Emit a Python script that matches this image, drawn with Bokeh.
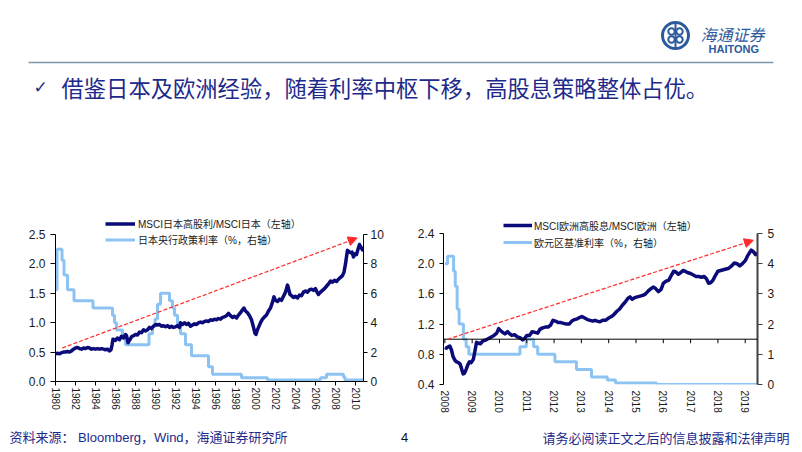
import math
from bokeh.plotting import figure
from bokeh.layouts import column, row
from bokeh.models import (Range1d, LinearAxis, FixedTicker, NumeralTickFormatter,
                          Legend, LegendItem, Arrow, NormalHead, Span)
from bokeh.core.properties import value
from bokeh.embed import file_html
from bokeh.resources import INLINE

# ---------------- data ----------------
jp_years = [1980.0, 1980.2, 1980.4, 1980.6, 1980.8, 1981.0, 1981.2, 1981.4, 1981.6, 1981.8,
            1982.0, 1982.2, 1982.4, 1982.6, 1982.8, 1983.0, 1983.2, 1983.4, 1983.6, 1983.8,
            1984.0, 1984.2, 1984.4, 1984.6, 1984.8, 1985.0, 1985.2, 1985.4, 1985.55, 1985.65,
            1985.75, 1986.0, 1986.2, 1986.4, 1986.6, 1986.8, 1987.0, 1987.1, 1987.25, 1987.4,
            1987.6, 1987.8, 1988.0, 1988.2, 1988.4, 1988.6, 1988.8, 1989.0, 1989.2, 1989.4,
            1989.6, 1989.8, 1990.0, 1990.2, 1990.4, 1990.6, 1990.8, 1991.0, 1991.2, 1991.4,
            1991.6, 1991.8, 1992.0, 1992.2, 1992.4, 1992.5, 1992.7, 1992.9, 1993.1, 1993.3,
            1993.5, 1993.7, 1993.9, 1994.1, 1994.3, 1994.5, 1994.7, 1994.9, 1995.1, 1995.3,
            1995.5, 1995.7, 1995.9, 1996.1, 1996.3, 1996.5, 1996.7, 1996.9, 1997.1, 1997.3,
            1997.5, 1997.7, 1997.9, 1998.1, 1998.3, 1998.5, 1998.7, 1998.85, 1999.0, 1999.2,
            1999.4, 1999.6, 1999.8, 1999.95, 2000.05, 2000.15, 2000.3, 2000.5, 2000.7, 2000.9,
            2001.1, 2001.3, 2001.5, 2001.7, 2001.85, 2002.0, 2002.2, 2002.4, 2002.6, 2002.8,
            2003.0, 2003.2, 2003.3, 2003.45, 2003.6, 2003.8, 2004.0, 2004.2, 2004.4, 2004.6,
            2004.8, 2005.0, 2005.2, 2005.4, 2005.6, 2005.8, 2006.0, 2006.15, 2006.3, 2006.5,
            2006.7, 2006.9, 2007.1, 2007.3, 2007.5, 2007.7, 2007.9, 2008.1, 2008.3, 2008.5,
            2008.7, 2008.85, 2009.0, 2009.1, 2009.2, 2009.35, 2009.5, 2009.65, 2009.8, 2009.95,
            2010.1, 2010.25, 2010.4, 2010.5, 2010.6, 2010.7, 2010.8]
jp_ratio = [0.47, 0.48, 0.47, 0.49, 0.50, 0.50, 0.51, 0.50, 0.52, 0.55,
            0.57, 0.58, 0.56, 0.55, 0.57, 0.56, 0.58, 0.57, 0.55, 0.56,
            0.55, 0.56, 0.55, 0.56, 0.55, 0.54, 0.55, 0.52, 0.54, 0.62,
            0.72, 0.70, 0.74, 0.71, 0.77, 0.74, 0.80, 0.78, 0.66, 0.70,
            0.76, 0.78, 0.80, 0.79, 0.84, 0.83, 0.88, 0.86, 0.88, 0.92,
            0.90, 0.94, 0.97, 0.96, 0.97, 0.94, 0.95, 0.93, 0.95, 0.92,
            0.94, 0.92, 0.93, 0.95, 0.92, 1.00, 0.97, 1.00, 0.97, 0.99,
            0.94, 0.96, 0.98, 0.97, 1.00, 1.01, 1.00, 1.02, 1.03, 1.02,
            1.05, 1.04, 1.06, 1.05, 1.07, 1.06, 1.09, 1.10, 1.12, 1.16,
            1.12, 1.09, 1.11, 1.08, 1.13, 1.17, 1.22, 1.25, 1.20, 1.17,
            1.12, 1.05, 0.92, 0.82, 0.80, 0.86, 0.92, 1.00, 1.06, 1.10,
            1.13, 1.20, 1.25, 1.35, 1.44, 1.38, 1.36, 1.40, 1.38, 1.45,
            1.52, 1.64, 1.58, 1.48, 1.46, 1.43, 1.45, 1.42, 1.47, 1.46,
            1.52, 1.54, 1.52, 1.56, 1.57, 1.55, 1.58, 1.52, 1.48, 1.52,
            1.55, 1.58, 1.62, 1.66, 1.71, 1.69, 1.72, 1.70, 1.74, 1.77,
            1.80, 1.86, 2.00, 2.12, 2.23, 2.21, 2.19, 2.20, 2.12, 2.17,
            2.16, 2.25, 2.33, 2.30, 2.27, 2.24, 2.22]

boj_years = [1980.0, 1980.15, 1980.65, 1980.85, 1981.2, 1981.85, 1983.75, 1985.7, 1985.9,
             1986.1, 1986.7, 1987.0, 1989.35, 1989.7, 1989.95, 1990.2, 1990.5, 1991.4,
             1991.7, 1991.9, 1992.2, 1992.5, 1993.0, 1993.6, 1995.3, 1995.7, 1998.6,
             2001.2, 2006.5, 2007.1, 2008.8, 2008.95, 2010.8]
boj_rate = [6.25, 9.0, 8.25, 7.25, 6.25, 5.5, 5.0, 4.5, 4.0,
            3.5, 3.0, 2.5, 3.25, 3.75, 4.25, 5.25, 6.0, 5.5,
            5.0, 4.5, 3.75, 3.25, 2.5, 1.75, 1.0, 0.5, 0.25,
            0.1, 0.25, 0.5, 0.3, 0.1, 0.1]

eu_years = [2008.0, 2008.06, 2008.12, 2008.18, 2008.24, 2008.3, 2008.37, 2008.43, 2008.5, 2008.56,
            2008.62, 2008.67, 2008.72, 2008.78, 2008.84, 2008.9, 2008.96, 2009.04, 2009.1, 2009.16,
            2009.22, 2009.3, 2009.4, 2009.5, 2009.6, 2009.7, 2009.8, 2009.9, 2009.97, 2010.05,
            2010.12, 2010.2, 2010.3, 2010.38, 2010.45, 2010.55, 2010.65, 2010.75, 2010.85, 2010.92,
            2011.0, 2011.1, 2011.2, 2011.3, 2011.4, 2011.48, 2011.58, 2011.68, 2011.78, 2011.88,
            2011.96, 2012.05, 2012.15, 2012.25, 2012.35, 2012.45, 2012.55, 2012.65, 2012.75, 2012.85,
            2012.95, 2013.02, 2013.12, 2013.22, 2013.32, 2013.42, 2013.5, 2013.58, 2013.68, 2013.78,
            2013.88, 2014.0, 2014.1, 2014.2, 2014.3, 2014.4, 2014.5, 2014.6, 2014.7, 2014.78,
            2014.86, 2014.95, 2015.05, 2015.15, 2015.25, 2015.35, 2015.45, 2015.55, 2015.63, 2015.72,
            2015.82, 2015.92, 2016.0, 2016.1, 2016.2, 2016.3, 2016.38, 2016.46, 2016.55, 2016.63,
            2016.72, 2016.8, 2016.9, 2017.0, 2017.1, 2017.2, 2017.3, 2017.4, 2017.5, 2017.58,
            2017.66, 2017.74, 2017.82, 2017.9, 2018.0, 2018.1, 2018.2, 2018.3, 2018.4, 2018.5,
            2018.6, 2018.7, 2018.8, 2018.9, 2019.0, 2019.08, 2019.15, 2019.22, 2019.3, 2019.38,
            2019.45]
eu_ratio = [0.89, 0.88, 0.90, 0.91, 0.86, 0.77, 0.72, 0.70, 0.69, 0.67,
            0.60, 0.54, 0.55, 0.60, 0.66, 0.70, 0.69, 0.73, 0.84, 0.96,
            0.95, 0.94, 0.98, 0.99, 1.01, 1.03, 1.05, 1.08, 1.14, 1.11,
            1.09, 1.07, 1.10, 1.07, 1.05, 1.06, 1.03, 1.02, 0.99, 1.01,
            1.05, 1.05, 1.10, 1.09, 1.08, 1.13, 1.15, 1.16, 1.16, 1.19,
            1.25, 1.24, 1.22, 1.22, 1.21, 1.20, 1.20, 1.24, 1.26, 1.27,
            1.29, 1.30, 1.28, 1.26, 1.25, 1.24, 1.25, 1.24, 1.23, 1.25,
            1.25, 1.28, 1.30, 1.33, 1.37, 1.40, 1.45, 1.49, 1.54, 1.56,
            1.53, 1.55, 1.56, 1.57, 1.58, 1.60, 1.64, 1.67, 1.69, 1.67,
            1.63, 1.66, 1.74, 1.77, 1.78, 1.85, 1.90, 1.89, 1.86, 1.88,
            1.91, 1.90, 1.88, 1.87, 1.85, 1.83, 1.83, 1.82, 1.83, 1.80,
            1.74, 1.75, 1.78, 1.84, 1.90, 1.91, 1.92, 1.93, 1.94, 1.97,
            2.01, 2.00, 1.97, 2.00, 2.04, 2.10, 2.14, 2.18, 2.16, 2.12,
            2.14]

ecb_years = [2008.0, 2008.1, 2008.32, 2008.38, 2008.45, 2008.52, 2008.68, 2008.78, 2008.88,
             2010.75, 2010.98, 2011.25, 2011.4, 2012.03, 2012.82, 2013.37, 2013.95, 2014.25,
             2015.75, 2019.45]
ecb_rate = [4.0, 4.25, 3.75, 3.25, 2.5, 2.0, 1.5, 1.25, 1.0,
            1.25, 1.5, 1.25, 1.0, 0.75, 0.5, 0.25, 0.15, 0.05,
            0.0, 0.0]

jp_x_ticks = list(range(1980, 2011, 2))
jp_left_ticks = [0.0, 0.5, 1.0, 1.5, 2.0, 2.5]
jp_right_ticks = [0, 2, 4, 6, 8, 10]
eu_x_ticks = list(range(2008, 2020))
eu_left_ticks = [0.4, 0.8, 1.2, 1.6, 2.0, 2.4]
eu_right_ticks = [0, 1, 2, 3, 4, 5]
eu_axis_cross = 1.0

jp_trend = [1980.67, 0.57, 2010.17, 2.44]   # x0, y0, x1, y1
eu_trend = [2008.1, 1.0, 2019.3, 2.31]

jp_labels = ["MSCI日本高股利/MSCI日本（左轴）", "日本央行政策利率（%，右轴）"]
eu_labels = ["MSCI欧洲高股息/MSCI欧洲（左轴）", "欧元区基准利率（%，右轴）"]

title_text = "借鉴日本及欧洲经验，随着利率中枢下移，高股息策略整体占优。"
source_text = "资料来源： Bloomberg，Wind，海通证券研究所"
notice_text = "请务必阅读正文之后的信息披露和法律声明"
page_no = "4"

# ---------------- style ----------------
NAVY = "#0a0a78"
LIGHT = "#8dc3f2"
RED = "#ff2a2a"
TXT_BLUE = "#1e2a8a"
LOGO = "#2c5a9c"
LAT = "'Liberation Sans', 'Noto Sans CJK SC', sans-serif"
CJK = "'Noto Sans CJK SC', sans-serif"


def blank(w, h, xr, yr):
    f = figure(width=w, height=h, x_range=Range1d(*xr), y_range=Range1d(*yr),
               output_backend="svg", toolbar_location=None, min_border=0,
               x_axis_location=None, y_axis_location=None)
    f.grid.visible = False
    f.outline_line_color = None
    f.background_fill_color = "white"
    f.border_fill_color = "white"
    return f


def style_axis(ax, size, tick_out=4, standoff=4):
    ax.major_label_text_font = LAT
    ax.major_label_text_font_size = size
    ax.major_label_text_color = "#1a1a1a"
    ax.axis_line_color = "black"
    ax.axis_line_width = 1
    ax.major_tick_line_color = "black"
    ax.minor_tick_line_color = None
    ax.major_tick_in = 0
    ax.major_tick_out = tick_out
    ax.major_label_standoff = standoff


# ---------------- header ----------------
head = blank(802, 200, (0, 802), (200, 0))
head.line(x=[28, 773], y=[62, 62], line_color="#7f95ad", line_width=1.5)
head.text(x=[33], y=[86], text=["✓"], text_font=value("DejaVu Sans"), text_font_size="17px",
          text_color=TXT_BLUE, text_baseline="middle", text_align="left")
head.text(x=[61], y=[86], text=[title_text], text_font=value(CJK), text_font_size="22.3px",
          text_color=TXT_BLUE, text_baseline="middle", text_align="left")
# logo
head.annulus(x=[675], y=[35], inner_radius=11.5, outer_radius=14.5, fill_color=LOGO, line_color=None)
head.annulus(x=[671, 679, 671, 679], y=[31, 31, 39, 39], inner_radius=2.2, outer_radius=4.2,
             fill_color=LOGO, line_color=None)
head.line(x=[675, 675], y=[23, 47], line_color=LOGO, line_width=2)
head.text(x=[700], y=[33], text=["海通证券"], text_font=value(CJK), text_font_size="16px",
          text_color=LOGO, text_baseline="middle", text_align="left", text_font_style="italic")
head.text(x=[708], y=[48], text=["HAITONG"], text_font=value("Liberation Sans"), text_font_size="11px",
          text_color=LOGO, text_baseline="middle", text_align="left", text_font_style="bold")

# ---------------- Japan chart ----------------
# frame extends above the 2.5 gridline so that the legend (drawn inside the frame) is not clipped
jp_frame_h, jp_axis_h = 167, 147
jp_top = jp_left_ticks[-1] * jp_frame_h / jp_axis_h
jp_rtop = jp_right_ticks[-1] * jp_frame_h / jp_axis_h
pj = figure(frame_width=308, frame_height=jp_frame_h, min_border_left=55, min_border_right=42,
            min_border_top=14, min_border_bottom=37,
            x_range=Range1d(1980, 2010.8), y_range=Range1d(0, jp_top),
            output_backend="svg", toolbar_location=None,
            x_axis_location=None, y_axis_location=None)
pj.extra_y_ranges = {"r": Range1d(0, jp_rtop)}
pj.grid.visible = False
pj.outline_line_color = None

rj2 = pj.step(boj_years, boj_rate, mode="after", y_range_name="r", line_color=LIGHT, line_width=3)
rj1 = pj.line(jp_years, jp_ratio, line_color=NAVY, line_width=3.5, line_join="round")

axl = LinearAxis(ticker=FixedTicker(ticks=jp_left_ticks), formatter=NumeralTickFormatter(format="0.0"),
                 bounds=(jp_left_ticks[0], jp_left_ticks[-1]))
style_axis(axl, "12px", 5, 5)
pj.add_layout(axl, "left")
axr = LinearAxis(y_range_name="r", ticker=FixedTicker(ticks=jp_right_ticks),
                 bounds=(jp_right_ticks[0], jp_right_ticks[-1]))
style_axis(axr, "12px", 4, 3)
pj.add_layout(axr, "right")
axb = LinearAxis(ticker=FixedTicker(ticks=jp_x_ticks), major_label_orientation="vertical")
style_axis(axb, "10px", 4, 2)
pj.add_layout(axb, "below")

pj.add_layout(Arrow(end=NormalHead(size=9, fill_color=RED, line_color=RED),
                    x_start=jp_trend[0], y_start=jp_trend[1], x_end=jp_trend[2], y_end=jp_trend[3],
                    line_color=RED, line_width=1.2, line_dash="4 2"))

legj = Legend(items=[LegendItem(label=value(jp_labels[0]), renderers=[rj1]),
                     LegendItem(label=value(jp_labels[1]), renderers=[rj2])],
              location=(50, 134), orientation="vertical", padding=0, margin=0, spacing=1,
              glyph_width=30, glyph_height=13, label_height=13, label_standoff=3,
              label_text_font=LAT, label_text_font_size="10px", label_text_color="#1a1a1a",
              background_fill_alpha=0, border_line_color=None)
pj.add_layout(legj, "center")

# ---------------- Europe chart ----------------
eu_frame_h, eu_axis_h = 170, 151
eu_top = eu_left_ticks[0] + (eu_left_ticks[-1] - eu_left_ticks[0]) * eu_frame_h / eu_axis_h
eu_rtop = eu_right_ticks[-1] * eu_frame_h / eu_axis_h
pe = figure(frame_width=314, frame_height=eu_frame_h, min_border_left=38, min_border_right=45,
            min_border_top=14, min_border_bottom=34,
            x_range=Range1d(2007.95, 2019.45), y_range=Range1d(eu_left_ticks[0], eu_top),
            output_backend="svg", toolbar_location=None,
            x_axis_location=None, y_axis_location=None)
pe.extra_y_ranges = {"r": Range1d(0, eu_rtop)}
pe.grid.visible = False
pe.outline_line_color = None

re2 = pe.step(ecb_years, ecb_rate, mode="after", y_range_name="r", line_color=LIGHT, line_width=3)
pe.add_layout(Span(location=eu_axis_cross, dimension="width", line_color="black", line_width=1))
pe.ray(x=eu_x_ticks, y=[eu_axis_cross] * len(eu_x_ticks), length=4, length_units="screen",
       angle=-math.pi / 2, line_color="black", line_width=1)
re1 = pe.line(eu_years, eu_ratio, line_color=NAVY, line_width=3.5, line_join="round")

bxl = LinearAxis(ticker=FixedTicker(ticks=eu_left_ticks), formatter=NumeralTickFormatter(format="0.0"),
                 bounds=(eu_left_ticks[0], eu_left_ticks[-1]))
style_axis(bxl, "12px", 4, 5)
pe.add_layout(bxl, "left")
bxr = LinearAxis(y_range_name="r", ticker=FixedTicker(ticks=eu_right_ticks),
                 bounds=(eu_right_ticks[0], eu_right_ticks[-1]))
style_axis(bxr, "12px", 5, 5)
bxr.axis_line_color = "#404040"
bxr.axis_line_width = 2
bxr.major_tick_line_color = "#404040"
pe.add_layout(bxr, "right")
bxb = LinearAxis(ticker=FixedTicker(ticks=eu_x_ticks), major_label_orientation="vertical")
style_axis(bxb, "10px", 0, 6)
bxb.axis_line_color = None
bxb.major_tick_line_color = None
pe.add_layout(bxb, "below")

pe.add_layout(Arrow(end=NormalHead(size=9, fill_color=RED, line_color=RED),
                    x_start=eu_trend[0], y_start=eu_trend[1], x_end=eu_trend[2], y_end=eu_trend[3],
                    line_color=RED, line_width=1.2, line_dash="4 2"))

lege = Legend(items=[LegendItem(label=value(eu_labels[0]), renderers=[re1]),
                     LegendItem(label=value(eu_labels[1]), renderers=[re2])],
              location=(60, 134), orientation="vertical", padding=0, margin=0, spacing=1,
              glyph_width=29, glyph_height=16, label_height=16, label_standoff=2,
              label_text_font=LAT, label_text_font_size="10px", label_text_color="#1a1a1a",
              background_fill_alpha=0, border_line_color=None)
pe.add_layout(lege, "center")

# ---------------- footer ----------------
foot = blank(802, 34, (0, 802), (452, 418))
foot.text(x=[9], y=[437], text=[source_text], text_font=value(LAT), text_font_size="13px",
          text_color=TXT_BLUE, text_baseline="middle", text_align="left")
foot.text(x=[404], y=[437], text=[page_no], text_font=value("Liberation Sans"), text_font_size="13px",
          text_color="#111111", text_baseline="middle", text_align="center")
foot.text(x=[789], y=[437], text=[notice_text], text_font=value(CJK), text_font_size="13px",
          text_color=TXT_BLUE, text_baseline="middle", text_align="right")

layout = column(head, row(pj, pe, spacing=0), foot, spacing=0)

open("out.html", "w").write(file_html(layout, INLINE))
